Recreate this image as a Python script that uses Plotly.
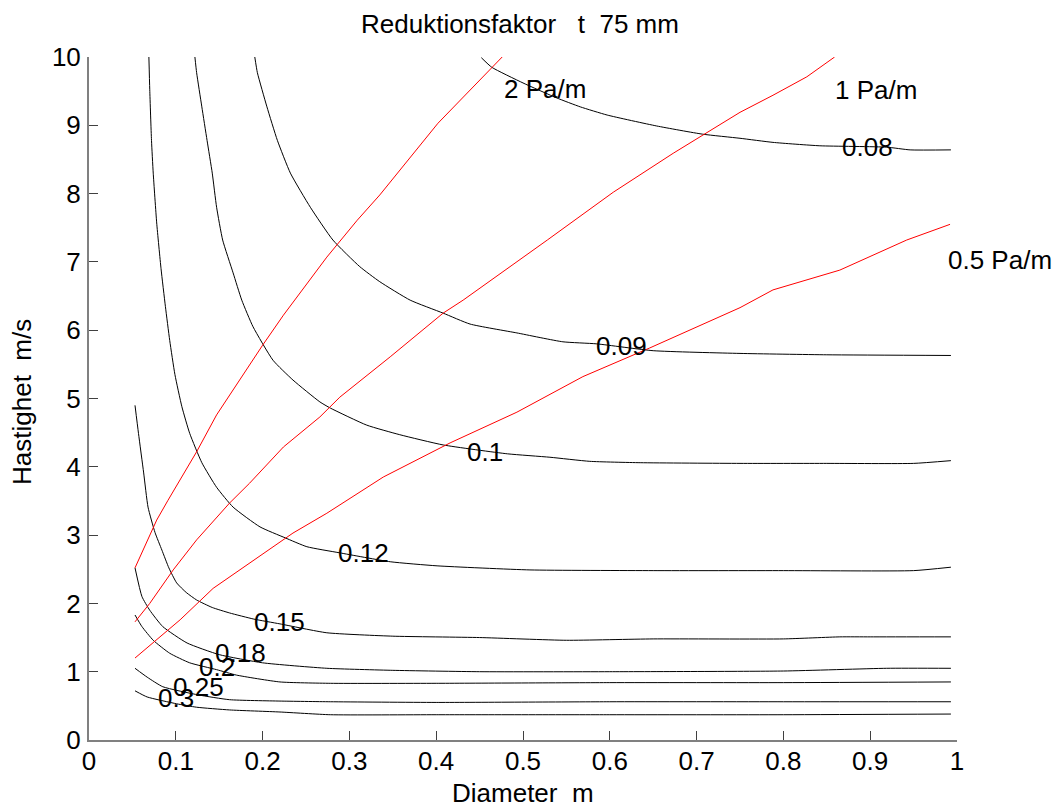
import plotly.graph_objects as go

# Reduction-factor isolines (black) and pressure-drop lines (red),
# diameter [m] on x, velocity [m/s] on y.

# --- iso-lines of the reduction factor -------------------------------------
r008_x = [0.452, 0.464, 0.500, 0.539, 0.566, 0.597, 0.654, 0.707, 0.750, 0.788, 0.842, 0.919, 0.946, 0.993]
r008_y = [9.99, 9.85, 9.62, 9.40, 9.27, 9.15, 8.99, 8.87, 8.81, 8.75, 8.70, 8.68, 8.64, 8.64]

r009_x = [0.191, 0.194, 0.205, 0.217, 0.232, 0.255, 0.281, 0.312, 0.335, 0.370, 0.408, 0.439, 0.493, 0.546, 0.585, 0.650, 0.750, 0.850, 0.993]
r009_y = [10.0, 9.77, 9.27, 8.78, 8.30, 7.80, 7.32, 6.93, 6.71, 6.44, 6.25, 6.09, 5.96, 5.83, 5.80, 5.70, 5.66, 5.64, 5.63]

r010_x = [0.122, 0.124, 0.130, 0.136, 0.142, 0.147, 0.154, 0.166, 0.176, 0.189, 0.212, 0.235, 0.266, 0.278, 0.320, 0.358, 0.408, 0.482, 0.531, 0.577, 0.635, 0.750, 0.850, 0.950, 0.993]
r010_y = [10.0, 9.77, 9.27, 8.78, 8.30, 7.80, 7.32, 6.84, 6.44, 6.05, 5.56, 5.27, 4.95, 4.86, 4.61, 4.47, 4.32, 4.19, 4.14, 4.08, 4.06, 4.05, 4.05, 4.05, 4.09]

r012_x = [0.069, 0.070, 0.072, 0.074, 0.078, 0.083, 0.088, 0.093, 0.099, 0.107, 0.116, 0.130, 0.147, 0.166, 0.197, 0.226, 0.251, 0.289, 0.347, 0.401, 0.508, 0.650, 0.800, 0.950, 0.993]
r012_y = [10.0, 9.52, 8.78, 8.30, 7.57, 6.90, 6.35, 5.85, 5.35, 4.88, 4.49, 4.06, 3.70, 3.41, 3.12, 2.96, 2.83, 2.74, 2.61, 2.55, 2.49, 2.48, 2.48, 2.48, 2.53]

r015_x = [0.053, 0.057, 0.063, 0.068, 0.076, 0.084, 0.092, 0.101, 0.112, 0.124, 0.142, 0.162, 0.190, 0.220, 0.274, 0.350, 0.450, 0.550, 0.650, 0.800, 0.865, 0.900, 0.993]
r015_y = [4.90, 4.49, 3.91, 3.41, 3.04, 2.78, 2.52, 2.30, 2.16, 2.05, 1.94, 1.86, 1.77, 1.70, 1.57, 1.52, 1.50, 1.46, 1.48, 1.48, 1.51, 1.51, 1.51]

r018_x = [0.053, 0.061, 0.070, 0.085, 0.113, 0.150, 0.200, 0.274, 0.350, 0.450, 0.600, 0.800, 0.919, 0.993]
r018_y = [2.52, 2.10, 1.90, 1.66, 1.42, 1.25, 1.13, 1.05, 1.02, 1.00, 1.00, 1.01, 1.05, 1.05]

r020_x = [0.053, 0.061, 0.074, 0.093, 0.116, 0.147, 0.170, 0.220, 0.278, 0.400, 0.600, 0.800, 0.993]
r020_y = [1.83, 1.66, 1.46, 1.27, 1.13, 1.03, 0.95, 0.85, 0.83, 0.83, 0.84, 0.84, 0.85]

r025_x = [0.053, 0.067, 0.085, 0.126, 0.162, 0.220, 0.278, 0.400, 0.600, 0.800, 0.993]
r025_y = [1.05, 0.92, 0.78, 0.66, 0.59, 0.57, 0.56, 0.55, 0.56, 0.56, 0.56]

r030_x = [0.053, 0.067, 0.101, 0.124, 0.162, 0.220, 0.278, 0.400, 0.600, 0.800, 0.993]
r030_y = [0.72, 0.63, 0.53, 0.48, 0.44, 0.41, 0.37, 0.37, 0.37, 0.37, 0.38]

iso_levels = ["0.08", "0.09", "0.1", "0.12", "0.15", "0.18", "0.2", "0.25", "0.3"]
iso_label_x = [0.897, 0.614, 0.456, 0.316, 0.220, 0.175, 0.148, 0.126, 0.100]
iso_label_y = [8.68, 5.77, 4.22, 2.74, 1.73, 1.27, 1.07, 0.78, 0.61]

# --- constant pressure-drop lines ------------------------------------------
dp2_x = [0.053, 0.068, 0.078, 0.091, 0.124, 0.147, 0.200, 0.224, 0.243, 0.274, 0.309, 0.335, 0.402, 0.442, 0.476]
dp2_y = [2.52, 2.93, 3.22, 3.51, 4.22, 4.76, 5.78, 6.22, 6.54, 7.07, 7.61, 7.98, 9.03, 9.56, 10.0]

dp1_x = [0.053, 0.070, 0.097, 0.124, 0.162, 0.185, 0.224, 0.266, 0.289, 0.347, 0.408, 0.431, 0.528, 0.604, 0.673, 0.712, 0.750, 0.788, 0.827, 0.859]
dp1_y = [1.73, 2.00, 2.49, 2.93, 3.47, 3.76, 4.29, 4.73, 5.02, 5.61, 6.25, 6.44, 7.32, 8.02, 8.59, 8.89, 9.19, 9.44, 9.71, 10.0]

dp05_x = [0.053, 0.073, 0.105, 0.143, 0.185, 0.235, 0.274, 0.339, 0.416, 0.493, 0.569, 0.646, 0.750, 0.788, 0.865, 0.942, 0.992]
dp05_y = [1.20, 1.42, 1.76, 2.22, 2.59, 3.03, 3.32, 3.85, 4.35, 4.80, 5.32, 5.74, 6.33, 6.59, 6.88, 7.32, 7.55]

dp_labels = ["2 Pa/m", "1 Pa/m", "0.5 Pa/m"]
dp_label_x = [0.525, 0.907, 1.050]
dp_label_y = [9.53, 9.52, 7.03]

x_ticks = [0, 0.1, 0.2, 0.3, 0.4, 0.5, 0.6, 0.7, 0.8, 0.9, 1]
x_tick_text = ["0", "0.1", "0.2", "0.3", "0.4", "0.5", "0.6", "0.7", "0.8", "0.9", "1"]
y_ticks = list(range(0, 11))

X_RANGE = [0, 1]
Y_RANGE = [0, 10]

FONT = "Liberation Sans, Arial, Helvetica, sans-serif"
FS = 26

fig = go.Figure()

iso_lines = [(r008_x, r008_y), (r009_x, r009_y), (r010_x, r010_y), (r012_x, r012_y),
             (r015_x, r015_y), (r018_x, r018_y), (r020_x, r020_y), (r025_x, r025_y),
             (r030_x, r030_y)]
for (xs, ys), lvl in zip(iso_lines, iso_levels):
    fig.add_trace(go.Scatter(x=xs, y=ys, mode="lines", name=lvl,
                             line=dict(color="black", width=1, shape="spline", smoothing=0.5),
                             hoverinfo="skip"))

for (xs, ys), lbl in zip([(dp2_x, dp2_y), (dp1_x, dp1_y), (dp05_x, dp05_y)], dp_labels):
    fig.add_trace(go.Scatter(x=xs, y=ys, mode="lines", name=lbl,
                             line=dict(color="red", width=1), hoverinfo="skip"))


def to_paper(v, rng):
    return (v - rng[0]) / (rng[1] - rng[0])


annotations = []
for t, ax, ay in zip(iso_levels, iso_label_x, iso_label_y):
    annotations.append(dict(x=ax, y=ay, xref="x", yref="y", text=t, showarrow=False,
                            xanchor="center", yanchor="middle",
                            font=dict(family=FONT, size=FS, color="black")))
# pressure-drop labels may sit outside the axes, so place them in paper units
for t, ax, ay in zip(dp_labels, dp_label_x, dp_label_y):
    annotations.append(dict(x=to_paper(ax, X_RANGE), y=to_paper(ay, Y_RANGE),
                            xref="paper", yref="paper", text=t, showarrow=False,
                            xanchor="center", yanchor="middle",
                            font=dict(family=FONT, size=FS, color="black")))

# title and axis captions (paper coords span the plotting area)
annotations.append(dict(x=0.4965, y=1.048, xref="paper", yref="paper",
                        text="Reduktionsfaktor\u00a0\u00a0\u00a0t\u00a0\u00a075 mm",
                        showarrow=False, xanchor="center", yanchor="middle",
                        font=dict(family=FONT, size=FS, color="black")))
annotations.append(dict(x=0.5, y=-0.078, xref="paper", yref="paper",
                        text="Diameter\u00a0\u00a0m", showarrow=False,
                        xanchor="center", yanchor="middle",
                        font=dict(family=FONT, size=FS, color="black")))
annotations.append(dict(x=-0.0772, y=0.4949, xref="paper", yref="paper",
                        text="Hastighet\u00a0\u00a0m/s", showarrow=False, textangle=-90,
                        xanchor="center", yanchor="middle",
                        font=dict(family=FONT, size=FS, color="black")))

fig.update_layout(
    width=1058, height=810,
    margin=dict(l=89, r=101, t=57, b=70, pad=0),
    paper_bgcolor="white", plot_bgcolor="white",
    showlegend=False,
    annotations=annotations,
    font=dict(family=FONT, size=FS, color="black"),
)
fig.update_xaxes(range=X_RANGE, tickvals=x_ticks, ticktext=x_tick_text,
                 ticks="inside", ticklen=9, tickwidth=1, tickcolor="#404040",
                 showline=True, linecolor="#808080", linewidth=2, mirror=False,
                 showgrid=False, zeroline=False, ticklabelstandoff=-3,
                 tickfont=dict(family=FONT, size=FS, color="black"))
fig.update_yaxes(range=Y_RANGE, tickvals=y_ticks,
                 ticks="inside", ticklen=9, tickwidth=1, tickcolor="#404040",
                 showline=True, linecolor="#808080", linewidth=2, mirror=False,
                 showgrid=False, zeroline=False, ticklabelstandoff=1,
                 tickfont=dict(family=FONT, size=FS, color="black"))

fig.write_html("out.html")
